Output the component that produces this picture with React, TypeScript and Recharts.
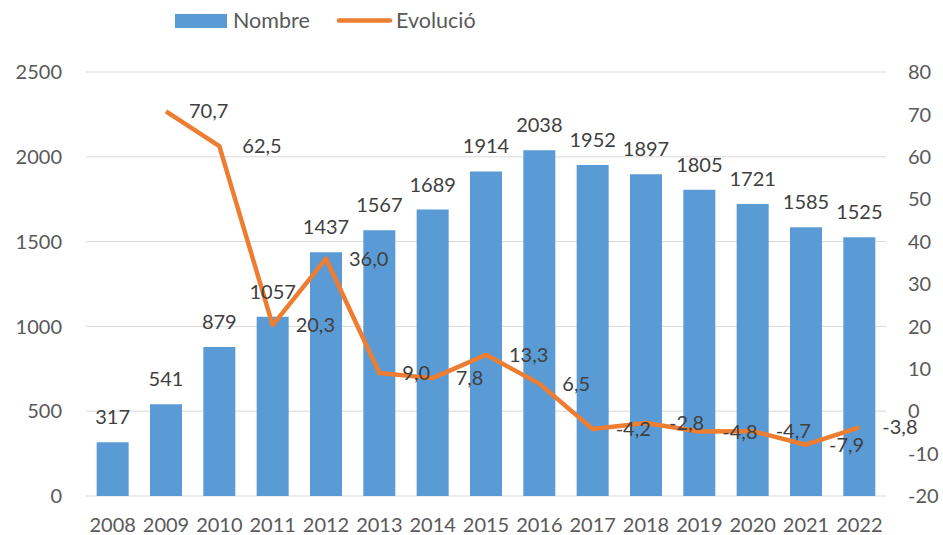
import React from "react";
import { ComposedChart, Bar, Line, XAxis, YAxis, CartesianGrid, LabelList } from "recharts";

const years = ["2008", "2009", "2010", "2011", "2012", "2013", "2014", "2015", "2016", "2017", "2018", "2019", "2020", "2021", "2022"];
const nombre = [317, 541, 879, 1057, 1437, 1567, 1689, 1914, 2038, 1952, 1897, 1805, 1721, 1585, 1525];
const evolucio: (number | null)[] = [null, 70.7, 62.5, 20.3, 36.0, 9.0, 7.8, 13.3, 6.5, -4.2, -2.8, -4.8, -4.7, -7.9, -3.8];
const leftTicks = [0, 500, 1000, 1500, 2000, 2500];
const rightTicks = [-20, -10, 0, 10, 20, 30, 40, 50, 60, 70, 80];

const data = years.map((y, i) => ({ year: y, nombre: nombre[i], evolucio: evolucio[i] }));

const FONT = "Lato, 'Open Sans', sans-serif";
const TICK = { fill: "#595959", fontSize: 20, fontFamily: FONT };
const BLUE = "#5B9BD5";
const ORANGE = "#ED7D31";

const fmt = (v: any) => (v == null ? "" : Number(v).toFixed(1).replace(".", ","));

const LineLabel = (props: any) => {
  const { x, y, value } = props;
  if (value == null || x == null || y == null) return null;
  return (
    <text x={x + 23} y={y} dy="0.35em" textAnchor="start" fill="#404040" fontSize={20} fontFamily={FONT}>
      {fmt(value)}
    </text>
  );
};

export default function App() {
  return (
    <div style={{ position: "absolute", left: 0, top: 0, width: 943, height: 535, background: "#fff" }}>
      <div style={{ position: "absolute", left: 0, top: 0, width: 943, height: 40 }}>
        <svg width={943} height={40} style={{ position: "absolute", left: 0, top: 0 }}>
          <rect x={175} y={14} width={52} height={14} fill={BLUE} />
          <text x={233} y={28} fill="#595959" fontSize={21.5} fontFamily={FONT}>Nombre</text>
          <line x1={339} y1={20.5} x2={390} y2={20.5} stroke={ORANGE} strokeWidth={4.5} strokeLinecap="round" />
          <text x={396} y={28} fill="#595959" fontSize={21.5} fontFamily={FONT}>Evolució</text>
        </svg>
      </div>
      <div style={{ position: "absolute", left: 0, top: 0 }}>
        <ComposedChart width={943} height={535} data={data} margin={{ top: 72, right: 0, bottom: 0, left: 0 }} barCategoryGap="20%">
          <CartesianGrid yAxisId="left" vertical={false} stroke="#D9D9D9" strokeWidth={1} />
          <XAxis dataKey="year" axisLine={false} tickLine={false} tickSize={0} tickMargin={22} height={39} tick={TICK} interval={0} />
          <YAxis yAxisId="left" orientation="left" domain={[0, 2500]} ticks={leftTicks} width={86} axisLine={false} tickLine={false} tickSize={0} tickMargin={24} tick={TICK} />
          <YAxis yAxisId="right" orientation="right" domain={[-20, 80]} ticks={rightTicks} width={57} axisLine={false} tickLine={false} tickSize={0} tickMargin={22} tick={TICK} />
          <Bar yAxisId="left" dataKey="nombre" fill={BLUE} isAnimationActive={false}>
            <LabelList dataKey="nombre" position="top" offset={18} fill="#404040" fontSize={20} fontFamily={FONT} />
          </Bar>
          <Line yAxisId="right" dataKey="evolucio" stroke={ORANGE} strokeWidth={4.5} dot={false} activeDot={false} strokeLinejoin="round" isAnimationActive={false}>
            <LabelList dataKey="evolucio" content={LineLabel} />
          </Line>
        </ComposedChart>
      </div>
    </div>
  );
}
